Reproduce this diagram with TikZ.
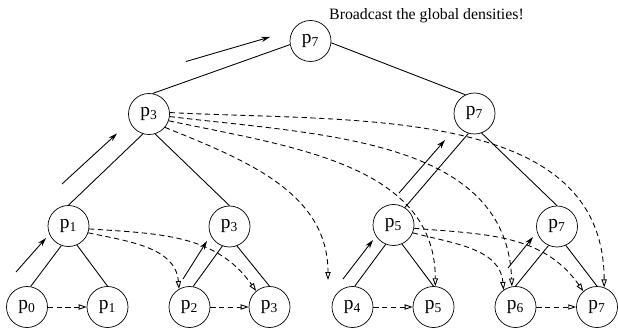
\documentclass[tikz,border=0pt]{standalone}
\usepackage{fontspec}
\setmainfont{Liberation Serif}
\usetikzlibrary{calc, arrows.meta}
\newcommand{\pp}[1]{p\textsubscript{#1}}

\begin{document}
\begin{tikzpicture}[
		proc/.style={draw, circle, minimum size=0.82cm, inner sep=0pt, font=\fontsize{11}{13}\selectfont},
		edge/.style={line width=0.5pt},
		send/.style={line width=0.5pt, -{Stealth[length=5pt,width=3pt]}},
		bcast/.style={line width=0.5pt, dash pattern=on 3pt off 2pt, -{Triangle[open,length=4.5pt,width=3pt]}}]
		\useasboundingbox (0,0) rectangle (12.36,6.64);
		% processors
		\node[proc] (r) at (6.21,5.82) {\pp{7}};
		\node[proc] (a3) at (2.98,4.36) {\pp{3}};
		\node[proc] (a7) at (9.49,4.37) {\pp{7}};
		\node[proc] (b1) at (1.37,2.12) {\pp{1}};
		\node[proc] (b3) at (4.59,2.11) {\pp{3}};
		\node[proc] (b5) at (7.87,2.14) {\pp{5}};
		\node[proc] (b7) at (11.14,2.11) {\pp{7}};
		\node[proc] (c0) at (0.54,0.50) {\pp{0}};
		\node[proc] (c1) at (2.15,0.50) {\pp{1}};
		\node[proc] (c2) at (3.79,0.50) {\pp{2}};
		\node[proc] (c3) at (5.39,0.50) {\pp{3}};
		\node[proc] (c4) at (7.05,0.50) {\pp{4}};
		\node[proc] (c5) at (8.67,0.50) {\pp{5}};
		\node[proc] (c6) at (10.31,0.50) {\pp{6}};
		\node[proc] (c7) at (11.94,0.50) {\pp{7}};
		\node[anchor=base west, font=\fontsize{9}{11}\selectfont] (title) at (6.46,6.24) {Broadcast the global densities!};
		% tree
		\draw[edge] (r.190) -- (a3.80);
		\draw[edge] (r.-5) -- (a7.116);
		\draw[edge] (a3.-107) -- (b1.north);
		\draw[edge] (a3.-73) -- (b3.north);
		\draw[edge] (a7.-107) -- (b5.57);
		\draw[edge] (a7.-70) -- (b7.north);
		\draw[edge] (b1.-110) -- (c0.80);
		\draw[edge] (b1.-66) -- (c1.north);
		\draw[edge] (b3.-110) -- (c2.80);
		\draw[edge] (b3.-69) -- (c3.north);
		\draw[edge] (b5.-112) -- (c4.84);
		\draw[edge] (b5.-66) -- (c5.north);
		\draw[edge] (b7.-114) -- (c6.north);
		\draw[edge] (b7.-65) -- (c7.north);
		% going up
		\draw[send] ([shift={(-0.22,0.70)}]c0.center) -- ([shift={(-0.45,-0.24)}]b1.center);
		\draw[send] ([shift={(-0.13,0.84)}]b1.center) -- ([shift={(-0.64,-0.39)}]a3.center);
		\draw[send] ([shift={(0.74,1.05)}]a3.center) -- ([shift={(-0.81,0.08)}]r.center);
		\draw[send] ([shift={(-0.13,0.56)}]c2.center) -- ([shift={(-0.45,-0.29)}]b3.center);
		\draw[send] ([shift={(-0.19,0.56)}]c4.center) -- ([shift={(-0.41,-0.30)}]b5.center);
		\draw[send] ([shift={(0.11,0.64)}]b5.center) -- ([shift={(-0.59,-0.53)}]a7.center);
		\draw[send] ([shift={(-0.15,0.78)}]c6.center) -- ([shift={(-0.48,-0.21)}]b7.center);
		% broadcast
		\draw[bcast] (c0) -- (c1);
		\draw[bcast] (c2) -- (c3);
		\draw[bcast] (c4) -- (c5);
		\draw[bcast] (c6) -- (c7);
		\draw[bcast] (b1.-19) to[out=-12, in=95] (c2.120);
		\draw[bcast] (b1.-8) to[out=-4, in=125] (c3.130);
		\draw[bcast] (b5.-22) to[out=-15, in=95] (c6.125);
		\draw[bcast] (b5.-9) to[out=-5, in=125] (c7.131);
		\draw[bcast] (a3.-40) to[out=-22, in=90] ([shift={(-0.49,0.54)}]c4.center);
		\draw[bcast] (a3.-19) to[out=-12, in=90] (c5.85);
		\draw[bcast] (a3.-7) to[out=-7, in=92] (c6.100);
		\draw[bcast] (a3.4) to[out=-3, in=90] (c7.70);
	\end{tikzpicture}
\end{document}
